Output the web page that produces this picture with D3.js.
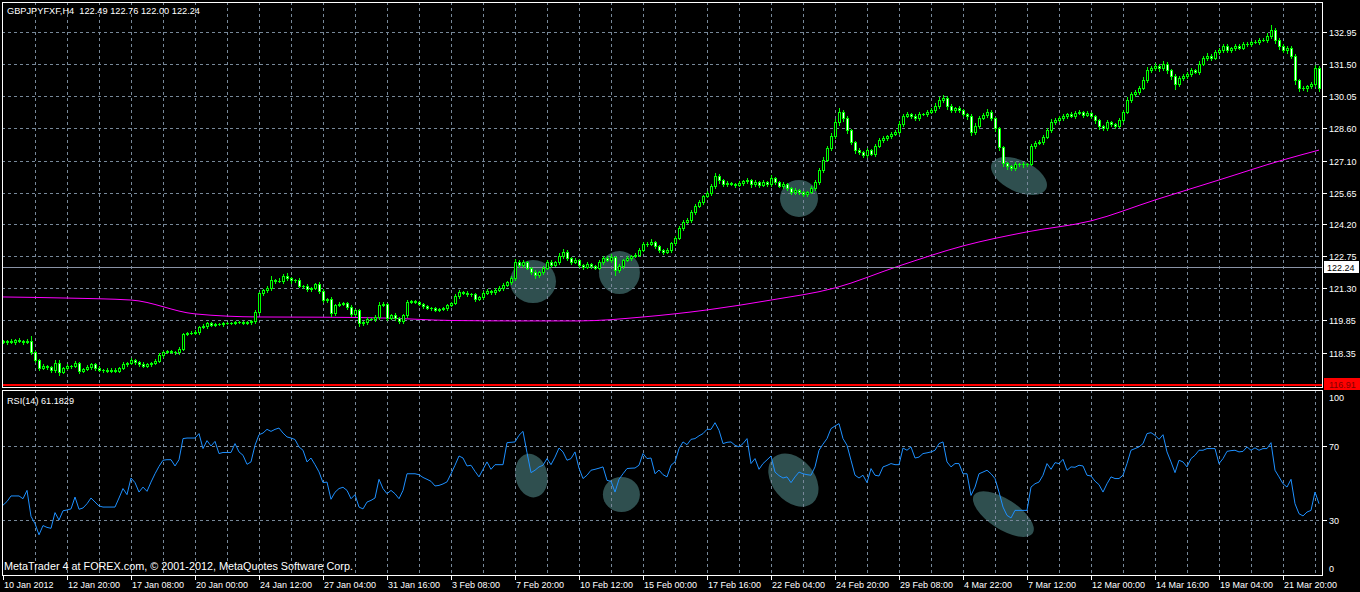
<!DOCTYPE html>
<html><head><meta charset="utf-8">
<script src="https://cdn.jsdelivr.net/npm/d3@7"></script>
<style>html,body{margin:0;padding:0;background:#000;overflow:hidden}svg{display:block}text{font-family:"Liberation Sans",Arial,sans-serif;white-space:pre}</style>
</head><body><svg id="c" width="1360" height="592"></svg>
<script>
// ---------------- DATA ----------------
const title = "GBPJPYFXF,H4  122.49 122.76 122.00 122.24";
const rsiTitle = "RSI(14) 61.1829";
const copyright = "MetaTrader 4 at FOREX.com, \u00A9 2001-2012, MetaQuotes Software Corp.";
const firstOpen = 118.88;
const closes = [
118.85,118.90,118.85,118.95,118.90,118.85,118.90,118.40,118.03,117.67,
117.75,117.70,117.60,117.90,117.50,117.67,117.76,117.76,117.90,117.55,
117.62,117.72,117.85,117.68,117.58,117.60,117.55,117.60,117.55,117.68,
117.85,117.90,118.03,117.95,117.85,117.78,117.85,117.90,118.00,118.26,
118.40,118.45,118.40,118.40,118.55,119.22,119.27,119.27,119.30,119.53,
119.58,119.70,119.63,119.67,119.67,119.72,119.72,119.72,119.76,119.76,
119.72,119.76,119.80,120.22,121.08,121.20,121.30,121.67,121.63,121.63,
121.85,121.75,121.67,121.67,121.40,121.40,121.26,121.30,121.49,121.17,
120.76,120.81,120.17,120.53,120.58,120.63,120.44,120.13,120.31,119.72,
119.76,119.90,119.90,119.99,120.53,120.58,119.94,120.08,119.94,119.81,
120.08,120.67,120.72,120.67,120.58,120.49,120.40,120.40,120.31,120.35,
120.40,120.53,120.63,120.94,121.13,121.08,121.04,121.04,120.81,120.90,
121.08,121.17,121.13,121.22,121.30,121.45,121.58,121.76,122.49,122.35,
122.49,122.22,122.04,121.90,122.04,122.22,122.49,122.35,122.49,122.76,
122.95,122.67,122.49,122.58,122.35,122.26,122.40,122.31,122.22,122.49,
122.67,122.58,122.72,122.13,122.31,122.58,122.67,122.76,122.81,123.04,
123.31,123.31,123.40,123.22,123.04,122.95,123.04,123.36,123.58,124.04,
124.31,124.40,124.76,125.04,125.22,125.49,125.63,125.95,126.40,126.22,
126.04,126.08,126.04,125.99,126.08,126.17,126.22,126.04,126.13,125.99,
126.13,126.04,126.31,126.13,125.95,126.04,125.86,125.68,125.77,125.68,
125.58,125.68,125.86,126.13,126.67,127.13,127.67,128.22,128.86,129.31,
129.04,128.49,127.95,127.58,127.49,127.36,127.58,127.40,127.77,128.04,
128.13,128.22,128.31,128.40,128.77,129.13,129.22,129.13,129.04,129.22,
129.22,129.31,129.40,129.58,129.86,129.95,129.58,129.40,129.49,129.40,
129.22,129.13,128.40,128.68,129.04,129.18,129.31,129.04,128.58,127.72,
126.99,126.86,126.77,126.95,126.95,126.95,126.95,127.77,127.90,127.95,
128.18,128.49,128.86,128.95,129.04,129.13,129.22,129.13,129.27,129.31,
129.18,129.27,129.13,128.95,128.68,128.58,128.86,128.77,128.68,128.95,
129.31,129.86,130.13,130.22,130.40,130.77,131.22,131.31,131.40,131.31,
131.49,131.22,130.95,130.58,130.86,130.95,131.04,131.22,131.13,131.49,
131.77,131.86,131.77,132.04,132.13,132.31,132.13,132.22,132.31,132.22,
132.40,132.40,132.50,132.50,132.59,132.59,132.77,133.04,132.59,132.31,
132.13,132.22,131.86,130.77,130.40,130.40,130.49,130.58,131.31,130.40];
// upper / lower wick lengths in pips (0.01)
const wickUp = [
8,6,10,5,8,6,10,22,6,5, 8,6,5,15,12,6,8,5,10,6, 5,8,6,5,6,4,5,6,5,5, 8,6,10,6,5,8,6,5,8,10,
6,5,5,6,8,6,5,6,8,6, 8,5,6,5,6,5,4,6,5,5, 5,6,5,8,6,8,10,20,6,15, 10,12,6,5,8,6,8,6,5,10,
8,6,10,6,8,5,6,8,5,6, 5,8,6,10,12,8,6,5,8,6, 5,10,6,5,5,6,5,4,6,5, 5,6,5,8,10,6,8,6,5,6,
10,8,6,8,10,8,6,8,12,10, 10,6,5,8,6,8,10,8,6,12, 15,8,6,8,6,5,8,6,5,8, 10,8,12,6,8,6,8,6,8,10,
8,10,12,6,5,6,8,6,8,10, 8,10,8,10,8,6,8,10,12,8, 6,8,6,5,8,6,10,6,8,5, 8,6,12,6,5,8,6,5,8,6,
5,6,8,10,8,12,10,12,15,18, 10,8,6,5,8,6,10,6,8,10, 8,6,8,10,12,10,8,6,8,10, 6,8,10,12,15,12,8,10,6,8,
6,5,10,12,8,10,12,8,6,5, 5,6,5,8,6,8,6,10,8,10, 8,10,12,8,10,8,6,8,10,8, 6,8,6,5,6,5,8,6,5,10,
10,12,8,10,8,12,15,10,12,8, 12,8,6,8,10,8,10,8,6,12, 10,12,8,10,8,10,8,6,8,10, 8,10,6,8,10,8,15,25,8,10,
8,10,8,8,6,8,6,10,15,8];
const wickDn = [
6,8,5,8,6,10,6,8,10,8, 6,8,10,12,15,8,6,8,6,10, 8,6,8,10,6,8,6,5,8,6, 5,8,6,10,8,6,8,10,6,8,
8,6,5,8,10,8,6,5,6,8, 6,10,5,6,5,8,5,6,5,6, 5,6,10,8,5,8,6,10,8,6, 8,10,12,8,6,8,10,8,6,8,
10,8,12,8,6,5,8,10,6,12, 10,8,6,8,10,6,8,6,10,8, 10,8,6,5,6,8,6,8,5,6, 6,8,6,5,8,6,8,10,8,6,
8,6,10,8,6,8,5,8,10,8, 8,6,10,12,8,10,6,8,6,8, 10,8,10,6,8,10,6,8,6,5, 8,6,10,25,10,8,6,8,6,5,
6,8,6,10,8,10,6,8,10,6, 8,6,10,8,6,8,6,10,8,12, 8,10,6,8,6,10,8,12,8,10, 6,8,10,8,6,10,8,12,10,8,
10,8,6,8,10,8,6,8,10,12, 15,12,10,12,8,10,8,6,8,6, 8,10,8,6,8,10,6,8,10,8, 6,8,6,10,8,10,12,10,8,10,
10,12,15,10,8,6,8,10,12,15, 15,12,10,8,10,12,8,6,8,6, 8,6,10,8,6,8,10,6,8,6, 8,6,10,12,15,10,8,10,8,6,
8,6,10,8,10,6,8,10,8,12, 10,12,15,20,10,8,10,8,6,8, 6,8,10,6,8,10,8,10,8,6, 6,8,10,6,8,6,8,10,15,12,
10,12,10,20,15,10,12,10,8,15];
const rsi = [
38,40,43,43,43,41.5,46,32,28,22, 27,26,25.5,34,30,35,35.4,36,42.4,35.8,
36.5,38.8,41.9,39.7,37.6,37,37,37,37,41.9, 47,43.7,52.7,50.2,45.1,47.8,45.5,50.5,55,59,
62.3,62.6,62.6,59.2,62.6,74,74.3,74.3,74.3,76.7, 68.6,72.9,70,72.5,65.9,66.5,66.5,66.5,71.3,66.8,
65,60.1,61.4,70.4,76.1,77,79,77.9,79,79.7, 77,74.9,74.3,73.5,69.5,67.7,61.4,63.5,59.9,56,
50.2,50.5,41.2,45,47,47.7,46,41.5,43.7,37, 36,39.7,40.6,41.9,52,47,44.2,46,44.2,41.5,
46,55,55,55,54.5,53,52,50.9,48.4,48.7, 49.5,50.6,55,59.6,64.6,63.5,59.2,59.6,56.3,53.3,
57.4,61.4,57.4,59.9,59.9,59.9,71.8,72,72.2,75.8, 77.9,66.4,55.6,56.9,58.7,59.6,63.2,59.9,64,68.9,
66.8,62.3,63.2,66.8,58,52.4,54.2,56.9,57.4,58, 58.7,51.4,50.9,45.1,52,55,57.8,58,58.1,59.6,
65.9,63.2,63.5,55,57,54.5,53.3,59.6,61.4,68.6, 72.2,70.7,73.6,74,75.5,76.7,79,79,82.6,78.5,
71.3,72,72.2,70.4,69.5,71.3,74,60.5,63.2,57.4, 60.5,62.5,64.6,55.9,54,52.7,53.3,50.2,53.3,55.9,
55,54.5,54.2,58.7,67.7,71,74,79.4,80.8,82.1, 74,70.4,62.3,54.2,52.7,54.2,50.2,57.8,54.2,53.8,
58.7,59.5,60.5,59.9,59.9,68.9,67.7,69.5,63.5,64, 65.9,66.3,66.8,67.7,71.3,72.2,61.4,58.7,60.5,60.5,
55,55,43.3,47.8,55,55.9,56.9,55,52.4,45.1, 37,32.5,31.1,35.2,35.2,35.2,35.2,47.8,49.6,50.5,
54.2,60.5,57.4,61,60.5,62.8,56.9,58.7,58.5,59.6, 59.2,54.2,53.8,51,49.1,45.1,49.6,53.3,52.4,52.4,
54.2,60.5,67.7,68.6,69.5,71.3,76.7,77.2,75.8,73.6, 76.1,66.8,61.4,55.6,62.3,61.4,58.7,63.2,65,67.7,
67.7,68.6,68.6,68.6,60.5,63.2,67.1,67.5,67.7,66.8, 67.1,69.5,67.7,69,67.7,68.6,68.6,71.8,56.9,53.3,
49.6,47.8,52,38.8,33.4,32.2,34.3,35.2,45.1,38.8];
// moving average (magenta), sampled at bar indices
const maBars = [0,16,32,48,64,80,96,112,128,144,160,176,192,208,224,240,256,272,288,304,320,329];
const maVals = [120.90,120.85,120.76,120.13,119.99,119.98,119.94,119.83,119.81,119.81,119.99,120.31,120.76,121.31,122.31,123.22,123.86,124.36,125.31,126.22,127.13,127.58];
const priceTicks = [132.95,131.50,130.05,128.60,127.10,125.65,124.20,122.75,121.30,119.85,118.35];
const rsiLevels = [70,30];
const rsiLabels = [100,70,30,0];
const bidPrice = 122.24;
const hLinePrice = 116.91;
const dateLabels = ["10 Jan 2012","12 Jan 20:00","17 Jan 08:00","20 Jan 00:00","24 Jan 12:00","27 Jan 04:00","31 Jan 16:00","3 Feb 08:00","7 Feb 20:00","10 Feb 12:00","15 Feb 00:00","17 Feb 16:00","22 Feb 04:00","24 Feb 20:00","29 Feb 08:00","4 Mar 22:00","7 Mar 12:00","12 Mar 00:00","14 Mar 16:00","19 Mar 04:00","21 Mar 20:00"];
const dateLabelBars = [0,16,32,48,64,80,96,112,128,144,160,176,192,208,224,240,256,272,288,304,320];
// ellipse annotations: centre bar, centre value
const mainMarks = [[132.5,121.60],[154.1,122.01],[199,125.38],[254,126.40]];
const rsiMarks = [[132.1,54.0],[154.6,43.8],[197.6,51.6],[250.1,33.2]];

// ---------------- DRAWING ----------------
const svg = d3.select("#c");
const L = 2, R = 1322, mainTop = 2, mainBot = 387, rsiTop = 390, rsiBot = 575;
const GREEN = "#00ff00", GRID = "#778899";
const x = d3.scaleLinear().domain([0, 329]).range([3, 1319]);
const y = d3.scaleLinear().domain([116.91, 132.95]).range([384.7, 32]);
const yr = d3.scaleLinear().domain([0, 100]).range([575.5, 390.5]);

svg.append("rect").attr("width",1360).attr("height",592).attr("fill","#000");
svg.append("defs").call(d=>{
  d.append("clipPath").attr("id","cm").append("rect").attr("x",L).attr("y",mainTop).attr("width",R-L).attr("height",mainBot-mainTop);
  d.append("clipPath").attr("id","cr").append("rect").attr("x",L).attr("y",rsiTop).attr("width",R-L).attr("height",rsiBot-rsiTop);
});
const gm = svg.append("g").attr("clip-path","url(#cm)");
const gr = svg.append("g").attr("clip-path","url(#cr)");

// ellipses (background objects)
const EL = "#2f4f4f";
const mainShape = [[23,21.5,0],[20.5,21.5,0],[19,18.5,0],[30,15.6,25]];
gm.selectAll("ellipse").data(mainMarks).join("ellipse")
  .attr("cx",0).attr("cy",0)
  .attr("rx",(d,i)=>mainShape[i][0]).attr("ry",(d,i)=>mainShape[i][1])
  .attr("transform",(d,i)=>`translate(${x(d[0])},${y(d[1])}) rotate(${mainShape[i][2]})`)
  .attr("fill",EL);
const rsiShape = [[16,22,-12],[18.5,17.5,0],[30,21,50],[35,15,33]];
gr.selectAll("ellipse").data(rsiMarks).join("ellipse")
  .attr("cx",0).attr("cy",0)
  .attr("rx",(d,i)=>rsiShape[i][0]).attr("ry",(d,i)=>rsiShape[i][1])
  .attr("transform",(d,i)=>`translate(${x(d[0])},${yr(d[1])}) rotate(${rsiShape[i][2]})`)
  .attr("fill",EL);

// grids
const vx = d3.range(35, 1316, 32);
[[gm,mainTop,mainBot],[gr,rsiTop,rsiBot]].forEach(([g,t,b])=>{
  g.append("g").selectAll("line").data(vx).join("line")
   .attr("x1",d=>d+0.5).attr("x2",d=>d+0.5).attr("y1",t).attr("y2",b)
   .attr("stroke",GRID).attr("stroke-dasharray","3,3");
});
gm.append("g").selectAll("line").data(priceTicks).join("line")
  .attr("x1",L).attr("x2",R).attr("y1",d=>Math.round(y(d))+0.5).attr("y2",d=>Math.round(y(d))+0.5)
  .attr("stroke",GRID).attr("stroke-dasharray","3,3");
gr.append("g").selectAll("line").data(rsiLevels).join("line")
  .attr("x1",L).attr("x2",R).attr("y1",d=>Math.round(yr(d))+0.5).attr("y2",d=>Math.round(yr(d))+0.5)
  .attr("stroke",GRID).attr("stroke-dasharray","3,3");

// moving average
gm.append("path").datum(maBars.map((b,i)=>[b,maVals[i]]))
  .attr("d",d3.line().x(d=>x(d[0])).y(d=>y(d[1])).curve(d3.curveMonotoneX))
  .attr("fill","none").attr("stroke","#ff00ff").attr("stroke-width",1);

// bid line
gm.append("line").attr("x1",L).attr("x2",R).attr("y1",Math.round(y(bidPrice))+0.5).attr("y2",Math.round(y(bidPrice))+0.5)
  .attr("stroke","#8a93a6").attr("stroke-width",1);

// candles
const bars = closes.map((c,i)=>{
  const o = i===0 ? firstOpen : closes[i-1];
  return {i,o,c,h:Math.max(o,c)+wickUp[i]/100,l:Math.min(o,c)-wickDn[i]/100};
});
const cg = gm.append("g").attr("shape-rendering","crispEdges");
bars.forEach(b=>{
  const cx = Math.round(x(b.i));
  const yo = Math.round(y(b.o)), yc = Math.round(y(b.c)), yh = Math.round(y(b.h)), yl = Math.round(y(b.l));
  cg.append("rect").attr("x",cx).attr("y",yh).attr("width",1).attr("height",yl-yh+1).attr("fill",GREEN);
  const top = Math.min(yo,yc), bot = Math.max(yo,yc);
  cg.append("rect").attr("x",cx-1).attr("y",top).attr("width",3).attr("height",bot-top+1).attr("fill",GREEN);
  if (bot-top >= 2) cg.append("rect").attr("x",cx).attr("y",top+1).attr("width",1).attr("height",bot-top-1)
     .attr("fill", b.c>b.o ? "#000" : "#fff");
});

// horizontal red line
gm.append("rect").attr("x",L).attr("y",Math.round(y(hLinePrice))-1).attr("width",R-L).attr("height",2).attr("fill","#ff0000");

// rsi line
gr.append("path").datum(rsi)
  .attr("d",d3.line().x((d,i)=>x(i)).y(d=>yr(d)))
  .attr("fill","none").attr("stroke","#1e90ff").attr("stroke-width",1);

// frames
const fr = svg.append("g").attr("fill","none").attr("stroke","#fff").attr("shape-rendering","crispEdges");
fr.append("rect").attr("x",L+0.5).attr("y",mainTop+0.5).attr("width",R-L).attr("height",mainBot-mainTop);
fr.append("rect").attr("x",L+0.5).attr("y",rsiTop+0.5).attr("width",R-L).attr("height",rsiBot-rsiTop);

// right axis labels
const ax = svg.append("g").attr("fill","#fff").attr("font-size","9px");
priceTicks.forEach(p=>{
  const yy = Math.round(y(p));
  svg.append("line").attr("x1",R+1).attr("x2",R+5).attr("y1",yy+0.5).attr("y2",yy+0.5).attr("stroke","#fff");
  ax.append("text").attr("x",1329).attr("y",yy+3.7).text(p.toFixed(2));
});
rsiLabels.forEach(v=>{
  let yy = Math.round(yr(v));
  if (rsiLevels.includes(v)) svg.append("line").attr("x1",R+1).attr("x2",R+5).attr("y1",yy+0.5).attr("y2",yy+0.5).attr("stroke","#fff");
  const ty = Math.min(Math.max(yy, rsiTop+7), rsiBot-7);
  ax.append("text").attr("x",1329).attr("y",ty+3.7).text(v);
});
// bid label
const by = Math.round(y(bidPrice));
svg.append("rect").attr("x",1324).attr("y",by-6).attr("width",35).attr("height",12).attr("fill","#fff");
svg.append("text").attr("x",1327).attr("y",by+3.7).attr("font-size","9px").attr("fill","#000").text(bidPrice.toFixed(2));
// red line label
const hy = Math.round(y(hLinePrice));
svg.append("rect").attr("x",1324).attr("y",hy-7).attr("width",36).attr("height",12).attr("fill","#ff0000");
svg.append("text").attr("x",1329).attr("y",hy+2.7).attr("font-size","9px").attr("fill","#800000").text(hLinePrice.toFixed(2));

// bottom time axis
dateLabels.forEach((t,k)=>{
  const xx = Math.round(x(dateLabelBars[k]));
  svg.append("line").attr("x1",xx+0.5).attr("x2",xx+0.5).attr("y1",rsiBot).attr("y2",rsiBot+5).attr("stroke","#fff");
  svg.append("text").attr("x",xx+1).attr("y",587.5).attr("font-size","9px").attr("fill","#fff").text(t);
});

// titles
svg.append("text").attr("x",7).attr("y",14).attr("font-size","9.5px").attr("fill","#fff")
  .attr("textLength",193).attr("lengthAdjust","spacingAndGlyphs").text(title);
svg.append("text").attr("x",7).attr("y",404.3).attr("font-size","9.5px").attr("fill","#fff")
  .attr("textLength",67).attr("lengthAdjust","spacingAndGlyphs").text(rsiTitle);
svg.append("text").attr("x",4).attr("y",570).attr("font-size","10px").attr("fill","#fff")
  .attr("textLength",349).attr("lengthAdjust","spacingAndGlyphs").text(copyright);
</script></body></html>
